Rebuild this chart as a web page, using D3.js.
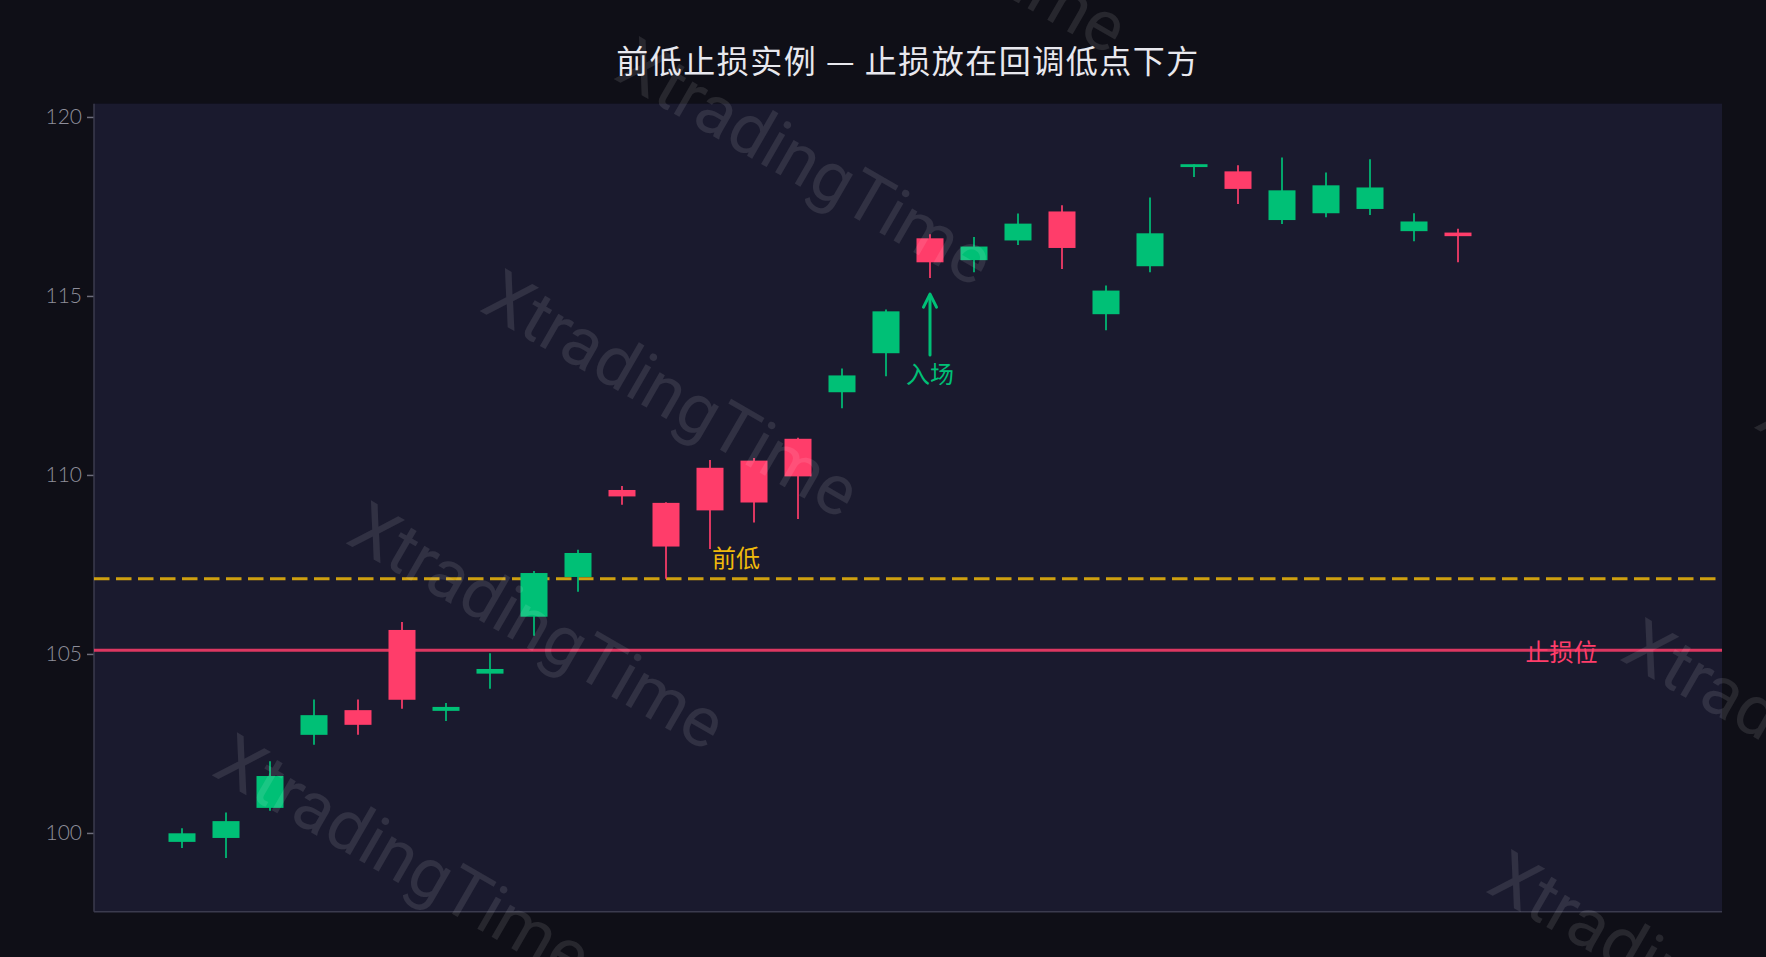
<!DOCTYPE html>
<html>
<head>
<meta charset="utf-8">
<script src="https://cdn.jsdelivr.net/npm/d3@7/dist/d3.min.js"></script>
<style>
  html, body { margin: 0; padding: 0; background: #0f0f17; }
  svg { display: block; }
</style>
</head>
<body>
<svg id="chart" width="1766" height="957"></svg>
<script>
// ---------------- data ----------------
const categories = [0,1,2,3,4,5,6,7,8,9,10,11,12,13,14,15,16,17,18,19,20,21,22,23,24,25,26,27,28,29];
const opens  = [99.75, 99.86, 100.70, 102.74, 103.43, 105.67, 103.41, 104.45, 106.04, 107.15,
                109.58, 109.22, 110.20, 110.40, 111.01, 112.31, 113.40, 116.61, 116.00, 116.55,
                117.36, 114.49, 115.83, 118.60, 118.48, 117.12, 117.31, 117.43, 116.81, 116.77];
const highs  = [100.13, 100.57, 102.00, 103.73, 103.73, 105.89, 103.63, 105.02, 107.32, 107.91,
                109.69, 109.24, 110.42, 110.47, 111.04, 112.97, 114.62, 116.72, 116.65, 117.30,
                117.53, 115.29, 117.75, 118.68, 118.65, 118.87, 118.45, 118.82, 117.31, 116.88];
const lows   = [99.58, 99.30, 100.62, 102.46, 102.74, 103.47, 103.13, 104.03, 105.51, 106.74,
                109.17, 107.10, 107.93, 108.67, 108.77, 111.86, 112.76, 115.50, 115.66, 116.42,
                115.75, 114.04, 115.66, 118.32, 117.57, 117.01, 117.20, 117.26, 116.53, 115.94];
const closes = [99.99, 100.33, 101.59, 103.29, 103.02, 103.72, 103.52, 104.58, 107.26, 107.82,
                109.40, 108.00, 109.01, 109.23, 109.96, 112.78, 114.57, 115.94, 116.38, 117.02,
                116.34, 115.15, 116.75, 118.68, 117.99, 117.95, 118.09, 118.03, 117.08, 116.67];
const yTicks = [100, 105, 110, 115, 120];
const priorLow = 107.1;      // 前低
const stopLevel = 105.1;     // 止损位
const entryIndex = 17;       // 入场
const entryArrow = [113.35, 115.05];
const priorLowLabelIndex = 12;
const stopLabelIndex = 31.35;
const titleText = "前低止损实例 — 止损放在回调低点下方";
const watermarkText = "XtradingTime";

// ---------------- layout ----------------
const W = 1766, H = 957;
const plot = { left: 94, right: 1722, top: 103.7, bottom: 911.7 };
const COL_UP = "#00c076", COL_DN = "#ff3d6a", COL_GOLD = "#f0b90b";

const svg = d3.select("#chart");
svg.append("rect").attr("width", W).attr("height", H).attr("fill", "#0f0f17");
svg.append("rect")
  .attr("x", plot.left).attr("y", plot.top)
  .attr("width", plot.right - plot.left).attr("height", plot.bottom - plot.top)
  .attr("fill", "#1a1a2e");

const data = categories.map((c, i) => ({ i: c, o: opens[i], h: highs[i], l: lows[i], c: closes[i] }));

const x = d3.scaleLinear().domain([-2, categories.length + 5]).range([plot.left, plot.right]);
const y = d3.scaleLinear()
  .domain([d3.min(lows) - 1.5, d3.max(highs) + 1.5])
  .range([plot.bottom, plot.top]);

// axes
const yAxis = d3.axisLeft(y).tickValues(yTicks).tickSize(7).tickPadding(5).tickFormat(d3.format("d"));
const gy = svg.append("g").attr("transform", `translate(${plot.left},0)`).call(yAxis);
gy.select(".domain").remove();
gy.selectAll(".tick line").attr("stroke", "#6e6e7c").attr("stroke-width", 1.5);
gy.selectAll(".tick text")
  .attr("fill", "#8e8e9a")
  .style("font-family", "Lato, 'DejaVu Sans', sans-serif")
  .style("font-weight", 300)
  .style("font-size", "21px");

svg.append("line").attr("x1", plot.left).attr("x2", plot.left)
  .attr("y1", plot.top).attr("y2", plot.bottom)
  .attr("stroke", "#3b3b4e").attr("stroke-width", 1.5);
svg.append("line").attr("x1", plot.left).attr("x2", plot.right)
  .attr("y1", plot.bottom).attr("y2", plot.bottom)
  .attr("stroke", "#3b3b4e").attr("stroke-width", 1.5);

// reference lines
svg.append("line")
  .attr("x1", plot.left).attr("x2", plot.right)
  .attr("y1", y(priorLow)).attr("y2", y(priorLow))
  .attr("stroke", COL_GOLD).attr("stroke-opacity", 0.85)
  .attr("stroke-width", 3).attr("stroke-dasharray", "15.5,6.5");

svg.append("line")
  .attr("x1", plot.left).attr("x2", plot.right)
  .attr("y1", y(stopLevel)).attr("y2", y(stopLevel))
  .attr("stroke", COL_DN).attr("stroke-opacity", 0.85)
  .attr("stroke-width", 3);

// candles
const bodyW = 27;
const g = svg.append("g");
const candle = g.selectAll("g.c").data(data).join("g").attr("class", "c");
candle.append("line")
  .attr("x1", d => x(d.i)).attr("x2", d => x(d.i))
  .attr("y1", d => y(d.h)).attr("y2", d => y(d.l))
  .attr("stroke", d => d.c >= d.o ? COL_UP : COL_DN)
  .attr("stroke-opacity", 0.85)
  .attr("stroke-width", 2);
candle.append("rect")
  .attr("x", d => x(d.i) - bodyW / 2)
  .attr("width", bodyW)
  .attr("y", d => y(Math.max(d.o, d.c)))
  .attr("height", d => Math.max(1, Math.abs(y(d.o) - y(d.c))))
  .attr("fill", d => d.c >= d.o ? COL_UP : COL_DN);

// annotations
svg.append("text")
  .attr("x", x(priorLowLabelIndex) + 2).attr("y", y(priorLow) - 12)
  .attr("fill", COL_GOLD)
  .style("font-family", "'Noto Sans CJK SC', sans-serif")
  .style("font-size", "24px")
  .text("前低");

svg.append("text")
  .attr("x", x(stopLabelIndex)).attr("y", y(stopLevel))
  .attr("text-anchor", "middle").attr("dominant-baseline", "central")
  .attr("fill", COL_DN)
  .style("font-family", "'Noto Sans CJK SC', sans-serif")
  .style("font-size", "24px")
  .text("止损位");

const ax = x(entryIndex);
const aTail = y(entryArrow[0]), aTip = y(entryArrow[1]);
svg.append("line")
  .attr("x1", ax).attr("x2", ax).attr("y1", aTail).attr("y2", aTip + 1)
  .attr("stroke", COL_UP).attr("stroke-width", 3).attr("stroke-linecap", "round");
svg.append("path")
  .attr("d", `M${ax - 6.5},${aTip + 13} L${ax},${aTip} L${ax + 6.5},${aTip + 13}`)
  .attr("fill", "none").attr("stroke", COL_UP).attr("stroke-width", 3)
  .attr("stroke-linecap", "round").attr("stroke-linejoin", "round");
svg.append("text")
  .attr("x", ax).attr("y", aTail + 28)
  .attr("text-anchor", "middle")
  .attr("fill", COL_UP)
  .style("font-family", "'Noto Sans CJK SC', sans-serif")
  .style("font-size", "24px")
  .text("入场");

// title
svg.append("text")
  .attr("x", (plot.left + plot.right) / 2).attr("y", 73)
  .attr("text-anchor", "middle")
  .attr("fill", "#e8e8ee")
  .style("font-family", "'Noto Sans CJK SC', sans-serif")
  .style("font-size", "32px")
  .style("letter-spacing", "1.5px")
  .text(titleText);

// watermark (rotated tiled) — keep only the tiles that reach the canvas
const ang = 30 * Math.PI / 180, ca = Math.cos(ang), sa = Math.sin(ang);
const toScreen = (u, v) => [u * ca - v * sa, u * sa + v * ca];
const wmPos = [];
for (let r = -4; r <= 5; r++) for (let c = -2; c <= 2; c++) {
  const u = 569 + 1162 * c, v = 29.5 + 268 * r;
  const pts = [[u, v - 52], [u + 420, v - 52], [u, v + 14], [u + 420, v + 14]].map(p => toScreen(p[0], p[1]));
  const xs = pts.map(p => p[0]), ys = pts.map(p => p[1]);
  if (d3.max(xs) > 0 && d3.min(xs) < W && d3.max(ys) > 0 && d3.min(ys) < H) wmPos.push({ u, v });
}
const wm = svg.append("g").attr("transform", "rotate(30)").attr("pointer-events", "none");
wm.selectAll("text").data(wmPos).join("text")
  .attr("x", d => d.u).attr("y", d => d.v)
  .attr("fill", "#ffffff").attr("fill-opacity", 0.1)
  .style("font-family", "Roboto, 'Open Sans', sans-serif")
  .style("font-size", "70px")
  .text(watermarkText);
</script>
</body>
</html>
